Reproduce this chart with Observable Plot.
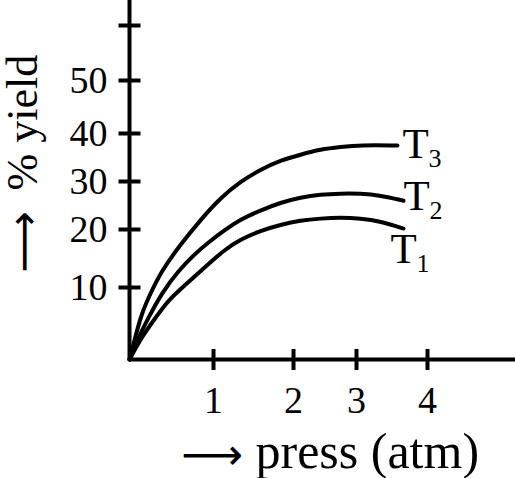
<!DOCTYPE html>
<html>
<head>
<meta charset="utf-8">
<script src="https://cdn.jsdelivr.net/npm/d3@7"></script>
<script src="https://cdn.jsdelivr.net/npm/@observablehq/plot@0.6"></script>
<style>
  html, body { margin: 0; padding: 0; background: #fff; }
  svg { display: block; }
</style>
</head>
<body>
<div id="chart"></div>
<script>
// ---- data ----
const seriesNames = ["T3", "T2", "T1"];
const pressT3 = [0, 0.068, 0.146, 0.226, 0.381, 0.607, 0.845, 1.088, 1.338, 1.588, 1.838, 2.111, 2.429, 2.746, 3.056, 3.577];
const yieldT3 = [0, 3.1, 6.4, 8.6, 12.9, 17.4, 22.0, 26.6, 30.0, 32.5, 34.4, 35.6, 36.7, 37.2, 37.6, 37.5];
const pressT2 = [0, 0.107, 0.226, 0.381, 0.583, 0.786, 0.940, 1.15, 1.338, 1.588, 1.838, 2.111, 2.429, 2.746, 3.056, 3.338, 3.662];
const yieldT2 = [0, 3.1, 5.8, 9.2, 12.9, 15.9, 17.8, 20.0, 22.1, 24.0, 25.6, 26.7, 27.3, 27.5, 27.5, 27.1, 26.0];
const pressT1 = [0, 0.143, 0.310, 0.464, 0.702, 0.940, 1.15, 1.338, 1.588, 1.838, 2.111, 2.429, 2.746, 3.056, 3.338, 3.662];
const yieldT1 = [0, 3.1, 5.8, 8.3, 10.9, 14.1, 16.6, 18.3, 19.8, 21.0, 21.9, 22.3, 22.5, 22.3, 21.7, 20.2];

const xTicks = [1, 2, 3, 4];
const yTicks = [10, 20, 30, 40, 50, 60];
const yTickLabels = ["10", "20", "30", "40", "50", ""];

// label anchors (data units) and texts
const labelMain = ["T", "T", "T"];
const labelSub = ["3", "2", "1"];
const labelX = [3.648, 3.662, 3.479];
const labelY = [35.0, 23.96, 14.14];

// hand-drawn axes: tick spacing is uneven in the original, so the
// scales are piecewise-linear (applied through Plot's scale transform)
const xKnots = [0, 1, 2, 3, 4, 5];
const yKnots = [0, 10, 20, 30, 40, 50, 60, 64.5];
const xWarp = d3.scaleLinear().domain(xKnots).range([0, 84, 164, 227, 298, 386]);
const yWarp = d3.scaleLinear().domain(yKnots).range([0, 72, 130, 178, 226, 279, 334, 359]);

// ---- build tables ----
const curves = [
  ...pressT3.map((p, i) => ({series: "T3", press: p, yield: yieldT3[i]})),
  ...pressT2.map((p, i) => ({series: "T2", press: p, yield: yieldT2[i]})),
  ...pressT1.map((p, i) => ({series: "T1", press: p, yield: yieldT1[i]}))
];
const labels = seriesNames.map((s, i) => ({main: labelMain[i], sub: labelSub[i], x: labelX[i], y: labelY[i]}));
const yTickData = yTicks.map((v, i) => ({v, label: yTickLabels[i]}));

const serif = "'Liberation Serif', 'Times New Roman', serif";
const vtick = {draw(ctx, size) { const l = Math.sqrt(size / Math.PI); ctx.moveTo(0, -l); ctx.lineTo(0, l); }};
const htick = {draw(ctx, size) { const l = Math.sqrt(size / Math.PI); ctx.moveTo(-l, 0); ctx.lineTo(l, 0); }};

const chart = Plot.plot({
  width: 515,
  height: 478,
  marginLeft: 129,
  marginRight: 0,
  marginTop: 0,
  marginBottom: 119,
  style: {background: "#fff"},
  x: {type: "linear", transform: xWarp, domain: [0, 386], axis: null},
  y: {type: "linear", transform: yWarp, domain: [0, 359], axis: null},
  marks: [
    Plot.ruleY([0], {stroke: "black", strokeWidth: 4}),
    Plot.ruleX([0], {stroke: "black", strokeWidth: 4}),
    Plot.dot(xTicks, {x: d => d, y: 0, symbol: vtick, r: 10.5, stroke: "black", strokeWidth: 4, fill: "none"}),
    Plot.dot(yTicks, {x: 0, y: d => d, symbol: htick, r: 11, stroke: "black", strokeWidth: 4, fill: "none"}),
    Plot.text(xTicks, {x: d => d, y: 0, text: d => String(d), dy: 41, fontSize: 38, fontFamily: serif, fill: "black"}),
    Plot.text(yTickData, {x: 0, y: "v", text: "label", dx: -22, textAnchor: "end", fontSize: 38, fontFamily: serif, fill: "black"}),
    Plot.line(curves, {x: "press", y: "yield", z: "series", curve: "basis", stroke: "black", strokeWidth: 4, strokeLinecap: "round"}),
    Plot.text(labels, {x: "x", y: "y", text: "main", textAnchor: "start", lineAnchor: "bottom", fontSize: 43, fontFamily: serif, fill: "black"}),
    Plot.text(labels, {x: "x", y: "y", text: "sub", dx: 26, dy: 9, textAnchor: "start", lineAnchor: "bottom", fontSize: 26, fontFamily: serif, fill: "black"}),
    // x axis label
    Plot.text(["\u27F6"], {frameAnchor: "top-left", dx: 181 - 129, dy: 455, textAnchor: "start", lineAnchor: "middle", fontSize: 43, fontFamily: "'DejaVu Sans'", fill: "black"}),
    Plot.text(["press (atm)"], {frameAnchor: "top-left", dx: 255 - 129, dy: 467, textAnchor: "start", lineAnchor: "bottom", fontSize: 50, fontFamily: serif, fill: "black"}),
    // y axis label (rotated)
    Plot.text(["\u27F6"], {frameAnchor: "top-left", dx: 24 - 129, dy: 272, rotate: -90, textAnchor: "start", lineAnchor: "middle", fontSize: 43, fontFamily: "'DejaVu Sans'", fill: "black"}),
    Plot.text(["% yield"], {frameAnchor: "top-left", dx: 36 - 129, dy: 190, rotate: -90, textAnchor: "start", lineAnchor: "bottom", fontSize: 44, fontFamily: serif, fill: "black"})
  ]
});
document.getElementById("chart").appendChild(chart);
</script>
</body>
</html>
